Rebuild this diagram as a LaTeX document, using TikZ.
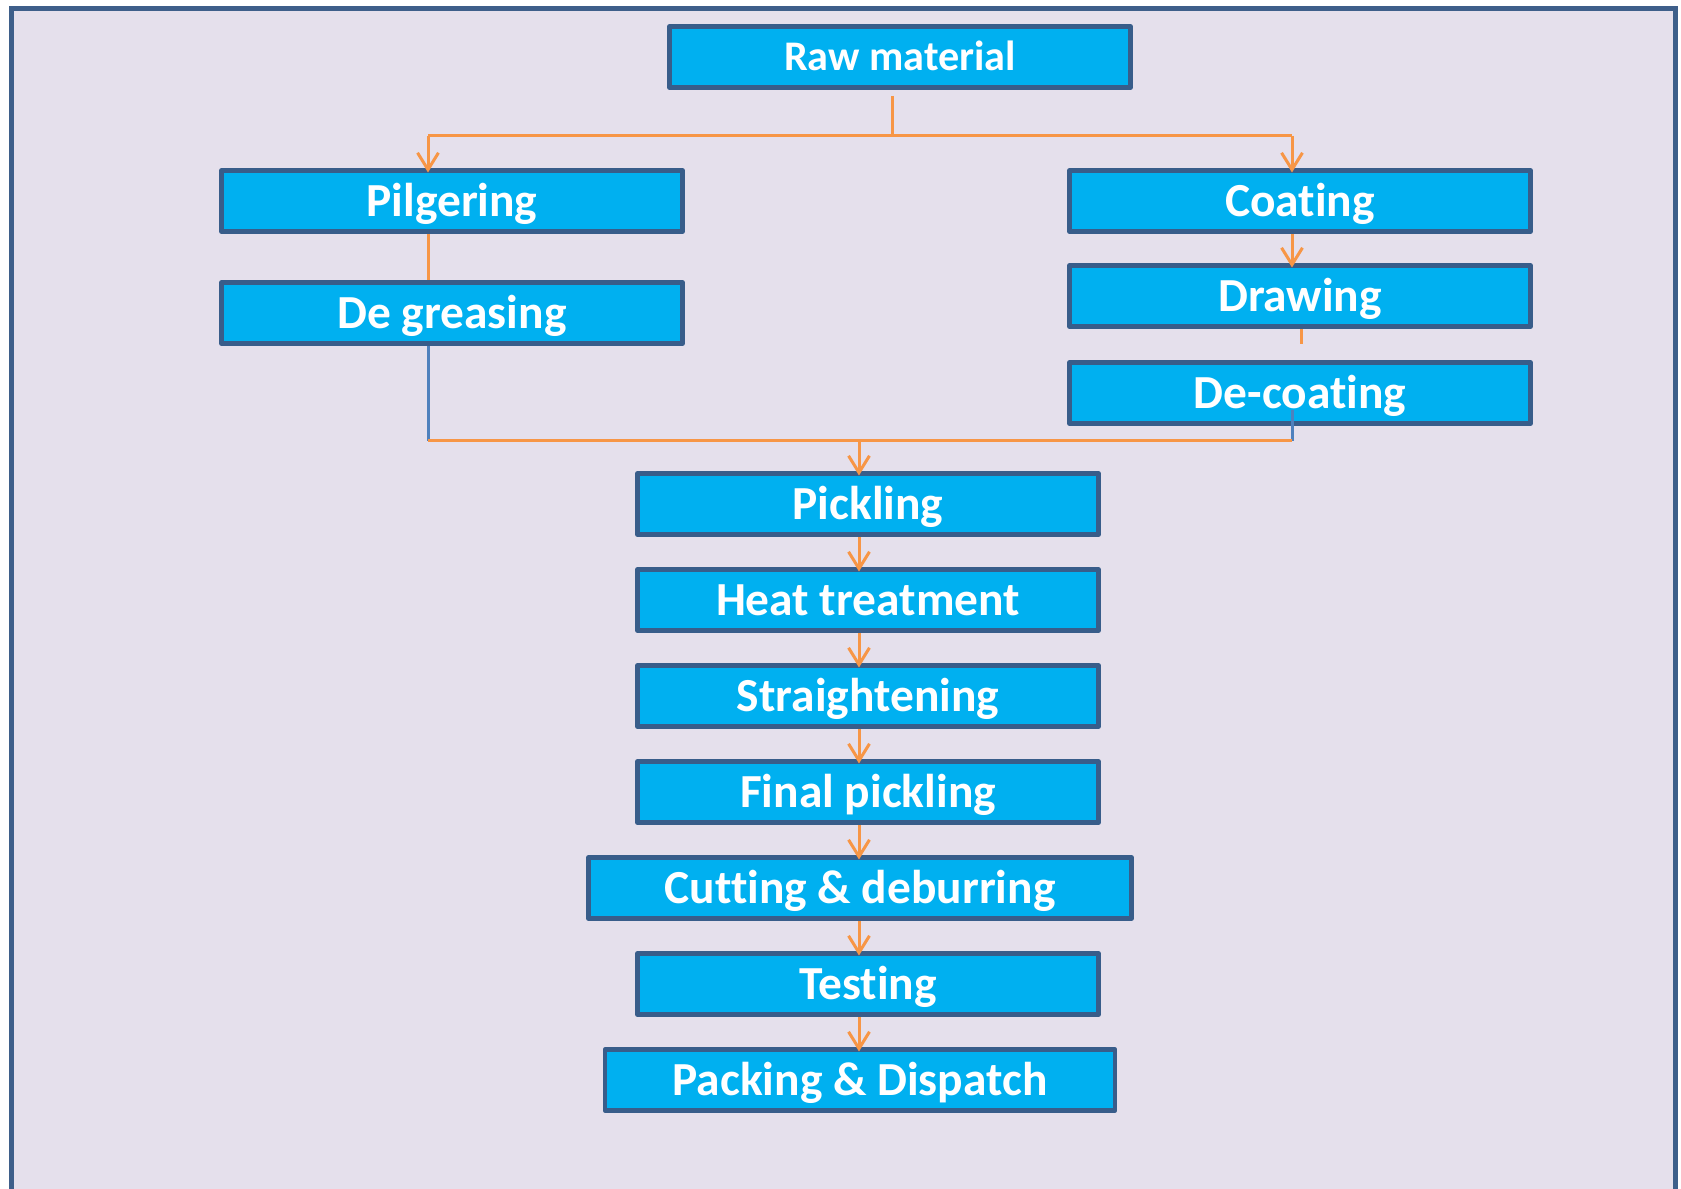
\documentclass[tikz,border=0pt]{standalone}
\usepackage{fontspec}
\setmainfont{Carlito}[Ligatures=NoCommon]
\usetikzlibrary{arrows.meta}

\definecolor{pagebg}{HTML}{E5E0EC}
\definecolor{framecol}{HTML}{3E5F8A}
\definecolor{boxfill}{HTML}{00B0F0}
\definecolor{boxline}{HTML}{385D8A}
\definecolor{flowcol}{HTML}{F79646}
\definecolor{bluecol}{HTML}{4F81BD}

\newlength{\pxunit}
\setlength{\pxunit}{0.02cm}
% keeps "t" and "i" as separate letters
\newcommand{\nolig}{\kern0pt\relax}

\tikzset{
  stage/.style={draw=boxline, fill=boxfill, line width=4.8\pxunit, line join=round,
    minimum width=461\pxunit, minimum height=61\pxunit, inner sep=0pt,
    text=white, font=\bfseries\fontsize{27}{30}\selectfont,
    text height=17.2pt, text depth=0pt},
  link/.style={draw=flowcol, line width=3\pxunit},
  bluelink/.style={draw=bluecol, line width=3\pxunit},
  flow/.style={link, shorten >=-2.5pt,
    -{Straight Barb[length=9.6pt,width=11.9pt]}}
}

\begin{document}
\begin{tikzpicture}[x=0.02cm,y=-0.02cm]
\path[use as bounding box] (0,0) rectangle (1681,1189);
\fill[white] (0,0) rectangle (1681,1189);
\begin{scope}
  \clip (0,0) rectangle (1681,1189);
  \draw[draw=framecol, fill=pagebg, line width=5\pxunit] (11,9) rectangle (1675,1230);
\end{scope}

% process steps
\node[stage, font=\bfseries\fontsize{24}{28}\selectfont, text height=15.2pt] (raw) at (900,57) {Raw material};
\node[stage] (pilg) at (452,201) {Pilgering};
\node[stage] (degr) at (452,313) {De greasing};
\node[stage] (coat) at (1300,201) {Coat\nolig ing};
\node[stage] (drw) at (1300,296) {Drawing};
\node[stage] (dcoat) at (1300,393) {De-coat\nolig ing};
\node[stage] (pick) at (868,504) {Pickling};
\node[stage] (heat) at (868,600) {Heat treatment};
\node[stage] (strt) at (868,696) {Straightening};
\node[stage] (fpick) at (868,792) {Final pickling};
\node[stage, minimum width=543\pxunit] (cut) at (860,888) {Cutt\nolig ing \& deburring};
\node[stage] (test) at (868,984) {Test\nolig ing};
\node[stage, minimum width=510\pxunit] (pack) at (860,1080) {Packing \& Dispatch};

% junction points of the connectors
\coordinate (rs) at (892,96);
\coordinate (rj) at (892,136);
\coordinate (jl) at (428,136);
\coordinate (jr) at (1292,136);
\coordinate (bl) at (428,441);
\coordinate (br) at (1292,441);
\coordinate (bm) at (859,441);
\coordinate (ds) at (1301,344);
\coordinate (dc) at (1292,410);

% split after the raw material
\draw[link] (rs) -- (rj);
\draw[link] (jl) -- (jr);
\draw[flow] (jl) -- (jl |- pilg.north);
\draw[flow] (jr) -- (jr |- coat.north);

% left branch
\draw[link] (jl |- pilg.south) -- (jl |- degr.north);
\draw[bluelink] (jl |- degr.south) -- (bl);

% right branch
\draw[flow] (jr |- coat.south) -- (jr |- drw.north);
\draw[link] (ds |- drw.south) -- (ds);
\draw[bluelink] (dc) -- (br);

% merge and main line
\draw[link] (bl) -- (br);
\draw[flow] (bm) -- (bm |- pick.north);
\foreach \a/\b in {pick/heat, heat/strt, strt/fpick, fpick/cut, cut/test, test/pack}
  \draw[flow] (bm |- \a.south) -- (bm |- \b.north);
\end{tikzpicture}
\end{document}
